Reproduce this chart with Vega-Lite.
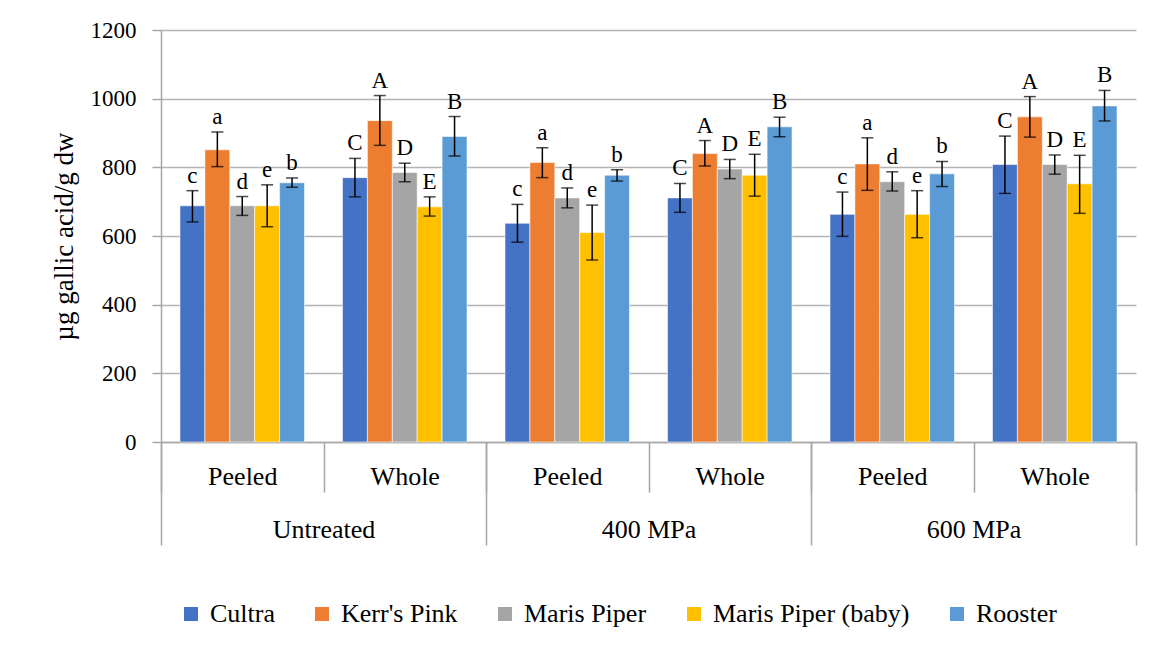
{
  "$schema": "https://vega.github.io/schema/vega-lite/v6.json",
  "width": 975,
  "height": 412,
  "autosize": {"type": "none"},
  "padding": {"left": 161, "top": 30, "right": 19, "bottom": 209},
  "config": {
    "view": {"stroke": null},
    "style": {"guide-label": {"font": "Liberation Serif, serif"}, "guide-title": {"font": "Liberation Serif, serif"}}
  },
  "layer": [
    {
      "data": {"values": [{"treatment": "Untreated"}, {"treatment": "400 MPa"}, {"treatment": "600 MPa"}]},
      "mark": {"type": "text", "text": ""},
      "encoding": {
        "x": {
          "field": "treatment", "type": "nominal",
          "sort": ["Untreated", "400 MPa", "600 MPa"],
          "scale": {"paddingInner": 0, "paddingOuter": 0},
          "axis": {
            "orient": "bottom", "title": null, "labelAngle": 0, "domain": false,
            "tickBand": "extent", "tickSize": 103, "tickColor": "#a6a6a6", "tickWidth": 1.5,
            "labelFont": "Liberation Serif, serif", "labelFontSize": 26, "labelBaseline": "alphabetic", "labelPadding": -8,
            "labelOverlap": false, "grid": false
          }
        }
      }
    },
    {
      "data": {
        "values": [
          {"group": "Untreated|Peeled", "treatment": "Untreated", "peel": "Peeled", "variety": "Cultra", "mean": 688, "lo": 641, "hi": 732, "letter": "c"},
          {"group": "Untreated|Peeled", "treatment": "Untreated", "peel": "Peeled", "variety": "Kerr's Pink", "mean": 851, "lo": 802, "hi": 903, "letter": "a"},
          {"group": "Untreated|Peeled", "treatment": "Untreated", "peel": "Peeled", "variety": "Maris Piper", "mean": 688, "lo": 660, "hi": 715, "letter": "d"},
          {"group": "Untreated|Peeled", "treatment": "Untreated", "peel": "Peeled", "variety": "Maris Piper (baby)", "mean": 688, "lo": 627, "hi": 749, "letter": "e"},
          {"group": "Untreated|Peeled", "treatment": "Untreated", "peel": "Peeled", "variety": "Rooster", "mean": 755, "lo": 742, "hi": 769, "letter": "b"},
          {"group": "Untreated|Whole", "treatment": "Untreated", "peel": "Whole", "variety": "Cultra", "mean": 770, "lo": 714, "hi": 826, "letter": "C"},
          {"group": "Untreated|Whole", "treatment": "Untreated", "peel": "Whole", "variety": "Kerr's Pink", "mean": 936, "lo": 864, "hi": 1009, "letter": "A"},
          {"group": "Untreated|Whole", "treatment": "Untreated", "peel": "Whole", "variety": "Maris Piper", "mean": 785, "lo": 758, "hi": 812, "letter": "D"},
          {"group": "Untreated|Whole", "treatment": "Untreated", "peel": "Whole", "variety": "Maris Piper (baby)", "mean": 685, "lo": 658, "hi": 714, "letter": "E"},
          {"group": "Untreated|Whole", "treatment": "Untreated", "peel": "Whole", "variety": "Rooster", "mean": 890, "lo": 833, "hi": 948, "letter": "B"},
          {"group": "400 MPa|Peeled", "treatment": "400 MPa", "peel": "Peeled", "variety": "Cultra", "mean": 637, "lo": 582, "hi": 692, "letter": "c"},
          {"group": "400 MPa|Peeled", "treatment": "400 MPa", "peel": "Peeled", "variety": "Kerr's Pink", "mean": 814, "lo": 770, "hi": 857, "letter": "a"},
          {"group": "400 MPa|Peeled", "treatment": "400 MPa", "peel": "Peeled", "variety": "Maris Piper", "mean": 711, "lo": 682, "hi": 740, "letter": "d"},
          {"group": "400 MPa|Peeled", "treatment": "400 MPa", "peel": "Peeled", "variety": "Maris Piper (baby)", "mean": 610, "lo": 530, "hi": 690, "letter": "e"},
          {"group": "400 MPa|Peeled", "treatment": "400 MPa", "peel": "Peeled", "variety": "Rooster", "mean": 777, "lo": 760, "hi": 793, "letter": "b"},
          {"group": "400 MPa|Whole", "treatment": "400 MPa", "peel": "Whole", "variety": "Cultra", "mean": 711, "lo": 669, "hi": 753, "letter": "C"},
          {"group": "400 MPa|Whole", "treatment": "400 MPa", "peel": "Whole", "variety": "Kerr's Pink", "mean": 840, "lo": 804, "hi": 878, "letter": "A"},
          {"group": "400 MPa|Whole", "treatment": "400 MPa", "peel": "Whole", "variety": "Maris Piper", "mean": 795, "lo": 767, "hi": 823, "letter": "D"},
          {"group": "400 MPa|Whole", "treatment": "400 MPa", "peel": "Whole", "variety": "Maris Piper (baby)", "mean": 777, "lo": 716, "hi": 838, "letter": "E"},
          {"group": "400 MPa|Whole", "treatment": "400 MPa", "peel": "Whole", "variety": "Rooster", "mean": 918, "lo": 889, "hi": 946, "letter": "B"},
          {"group": "600 MPa|Peeled", "treatment": "600 MPa", "peel": "Peeled", "variety": "Cultra", "mean": 663, "lo": 599, "hi": 728, "letter": "c"},
          {"group": "600 MPa|Peeled", "treatment": "600 MPa", "peel": "Peeled", "variety": "Kerr's Pink", "mean": 810, "lo": 733, "hi": 886, "letter": "a"},
          {"group": "600 MPa|Peeled", "treatment": "600 MPa", "peel": "Peeled", "variety": "Maris Piper", "mean": 758, "lo": 731, "hi": 787, "letter": "d"},
          {"group": "600 MPa|Peeled", "treatment": "600 MPa", "peel": "Peeled", "variety": "Maris Piper (baby)", "mean": 663, "lo": 595, "hi": 732, "letter": "e"},
          {"group": "600 MPa|Peeled", "treatment": "600 MPa", "peel": "Peeled", "variety": "Rooster", "mean": 781, "lo": 744, "hi": 817, "letter": "b"},
          {"group": "600 MPa|Whole", "treatment": "600 MPa", "peel": "Whole", "variety": "Cultra", "mean": 808, "lo": 724, "hi": 891, "letter": "C"},
          {"group": "600 MPa|Whole", "treatment": "600 MPa", "peel": "Whole", "variety": "Kerr's Pink", "mean": 947, "lo": 888, "hi": 1006, "letter": "A"},
          {"group": "600 MPa|Whole", "treatment": "600 MPa", "peel": "Whole", "variety": "Maris Piper", "mean": 808, "lo": 780, "hi": 836, "letter": "D"},
          {"group": "600 MPa|Whole", "treatment": "600 MPa", "peel": "Whole", "variety": "Maris Piper (baby)", "mean": 752, "lo": 666, "hi": 835, "letter": "E"},
          {"group": "600 MPa|Whole", "treatment": "600 MPa", "peel": "Whole", "variety": "Rooster", "mean": 979, "lo": 935, "hi": 1024, "letter": "B"}
        ]
      },
      "encoding": {
        "x": {
          "field": "group", "type": "nominal",
          "sort": ["Untreated|Peeled", "Untreated|Whole", "400 MPa|Peeled", "400 MPa|Whole", "600 MPa|Peeled", "600 MPa|Whole"],
          "scale": {"paddingInner": 0, "paddingOuter": 0},
          "axis": {
            "orient": "bottom", "title": null, "labelAngle": 0,
            "labelExpr": "split(datum.value, '|')[1]",
            "tickBand": "extent", "tickSize": 50, "tickColor": "#a6a6a6", "tickWidth": 1.5,
            "domainColor": "#a6a6a6", "domainWidth": 1.5,
            "labelFont": "Liberation Serif, serif", "labelFontSize": 26, "labelBaseline": "alphabetic", "labelPadding": -8,
            "labelOverlap": false, "grid": false
          }
        },
        "xOffset": {"field": "variety", "type": "nominal", "sort": ["Cultra", "Kerr's Pink", "Maris Piper", "Maris Piper (baby)", "Rooster"], "scale": {"paddingInner": 0, "paddingOuter": 0.763}}
      },
      "layer": [
        {
          "mark": {"type": "bar", "stroke": "white", "strokeWidth": 0.8, "strokeOpacity": 0.7},
          "encoding": {
            "y": {
              "field": "mean", "type": "quantitative",
              "scale": {"domain": [0, 1200], "nice": false},
              "axis": {
                "values": [0, 200, 400, 600, 800, 1000, 1200], "format": "d",
                "title": "µg gallic acid/g dw", "titleFont": "Liberation Serif, serif", "titleFontSize": 27, "titleFontWeight": "normal", "titlePadding": 12,
                "labelFont": "Liberation Serif, serif", "labelFontSize": 23, "labelPadding": 16, "tickSize": 9, "tickColor": "#a6a6a6", "tickWidth": 1.5,
                "domainColor": "#a6a6a6", "domainWidth": 1.5,
                "gridColor": "#b4b4b4", "gridWidth": 1.3
              }
            },
            "color": {
              "field": "variety", "type": "nominal",
              "sort": ["Cultra", "Kerr's Pink", "Maris Piper", "Maris Piper (baby)", "Rooster"],
              "scale": {"domain": ["Cultra", "Kerr's Pink", "Maris Piper", "Maris Piper (baby)", "Rooster"], "range": ["#4472C4", "#ED7D31", "#A5A5A5", "#FFC000", "#5B9BD5"]},
              "legend": {
                "title": null, "orient": "none", "direction": "horizontal", "legendX": 17, "legendY": 571,
                "symbolType": "square", "symbolSize": 196, "symbolStrokeWidth": 0, "symbolOpacity": 1,
                "labelFont": "Liberation Serif, serif", "labelFontSize": 26, "labelOffset": 6, "columnPadding": 34, "labelLimit": 400, "padding": 0
              }
            }
          }
        },
        {
          "mark": {"type": "rule", "color": "black", "strokeWidth": 1.5},
          "encoding": {"y": {"field": "lo", "type": "quantitative"}, "y2": {"field": "hi"}}
        },
        {
          "mark": {"type": "tick", "color": "black", "size": 12, "thickness": 1.5, "orient": "horizontal"},
          "encoding": {"y": {"field": "lo", "type": "quantitative"}}
        },
        {
          "mark": {"type": "tick", "color": "black", "size": 12, "thickness": 1.5, "orient": "horizontal"},
          "encoding": {"y": {"field": "hi", "type": "quantitative"}}
        },
        {
          "mark": {"type": "text", "font": "Liberation Serif, serif", "fontSize": 23, "baseline": "alphabetic", "dy": -8, "color": "black"},
          "encoding": {"y": {"field": "hi", "type": "quantitative"}, "text": {"field": "letter"}}
        }
      ]
    }
  ],
  "resolve": {"scale": {"x": "independent"}, "axis": {"x": "independent"}}
}
